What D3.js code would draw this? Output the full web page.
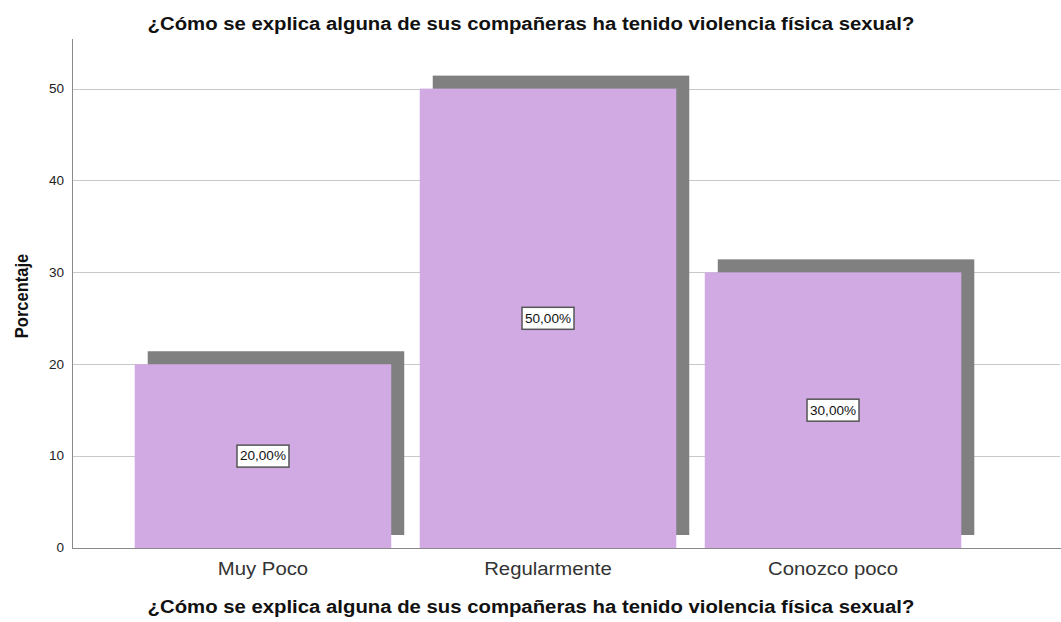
<!DOCTYPE html>
<html><head><meta charset="utf-8">
<script src="https://cdn.jsdelivr.net/npm/d3@7"></script>
<style>body{margin:0;background:#fff}svg{display:block}</style>
</head><body>
<svg id="c" width="1061" height="622"></svg>
<script>
const categories = ["Muy Poco", "Regularmente", "Conozco poco"];
const values = [20, 50, 30];
const yTicks = [0, 10, 20, 30, 40, 50];
const title = "¿Cómo se explica alguna de sus compañeras ha tenido violencia física sexual?";
const yTitle = "Porcentaje";

(function () {
const svg = d3.select("#c");
const font = "'Liberation Sans', Arial, sans-serif";
const sx = 1.13; // horizontal stretch of the text
const pLeft = 72, pRight = 1061, pTop = 39, pBottom = 548;

const y = d3.scaleLinear().domain([0, 55.4]).range([pBottom, pTop]);
const x = d3.scaleBand().domain(categories).range([pLeft, 1024]).paddingInner(0.1).paddingOuter(0.22);

// gridlines
svg.append("g").selectAll("line").data(yTicks.filter(d => d > 0)).join("line")
  .attr("x1", pLeft).attr("x2", pRight - 1)
  .attr("y1", d => Math.round(y(d)) + 0.5).attr("y2", d => Math.round(y(d)) + 0.5)
  .attr("stroke", "#c8c8c8").attr("stroke-width", 1);

const off = 13;
// shadows
svg.append("g").selectAll("rect").data(values).join("rect")
  .attr("x", (d, i) => x(categories[i]) + off)
  .attr("y", d => y(d) - off)
  .attr("width", x.bandwidth())
  .attr("height", d => y(0) - y(d))
  .attr("fill", "#808080");
// bars
svg.append("g").selectAll("rect").data(values).join("rect")
  .attr("x", (d, i) => x(categories[i]))
  .attr("y", d => y(d))
  .attr("width", x.bandwidth())
  .attr("height", d => y(0) - y(d))
  .attr("fill", "#d1aae3");

// axes
const yAxis = d3.axisLeft(y).tickValues(yTicks).tickSize(0).tickPadding(0);
const gy = svg.append("g").attr("transform", `translate(${pLeft + 0.5},0)`).call(yAxis);
gy.select(".domain").attr("stroke", "#8a8a8a").attr("d", `M0,${pTop}V${pBottom}`);
gy.selectAll("text").attr("font-family", font).attr("font-size", 12).attr("fill", "#222")
  .attr("x", 0).attr("transform", `translate(-8.5,0) scale(${sx},1)`);

const xAxis = d3.axisBottom(x).tickSize(0).tickPadding(14);
const gx = svg.append("g").attr("transform", `translate(0,${pBottom + 0.5})`).call(xAxis);
gx.select(".domain").attr("stroke", "#8a8a8a").attr("d", `M${pLeft},0H${pRight}`);
gx.selectAll("text").attr("font-family", font).attr("font-size", 18).attr("fill", "#333")
  .attr("transform", `scale(${sx},1)`);

// value labels
const lab = svg.append("g").selectAll("g").data(values).join("g")
  .attr("transform", (d, i) => `translate(${x(categories[i]) + x.bandwidth() / 2},${y(d / 2)})`);
lab.append("rect").attr("x", -26).attr("y", -11).attr("width", 52).attr("height", 22)
  .attr("fill", "#fff").attr("stroke", "#555").attr("stroke-width", 1.5);
lab.append("text").attr("text-anchor", "middle").attr("dy", "0.36em")
  .attr("transform", `scale(${sx},1)`)
  .attr("font-family", font).attr("font-size", 12).attr("fill", "#111")
  .text(d => d3.format(".2f")(d).replace(".", ",") + "%");

// titles
svg.append("text").attr("transform", `translate(531,30) scale(${sx},1)`).attr("text-anchor", "middle")
  .attr("font-family", font).attr("font-weight", "bold").attr("font-size", 18).attr("fill", "#111")
  .text(title);
svg.append("text").attr("transform", `translate(531,613) scale(${sx},1)`).attr("text-anchor", "middle")
  .attr("font-family", font).attr("font-weight", "bold").attr("font-size", 18).attr("fill", "#111")
  .text(title);
svg.append("text").attr("transform", `translate(27.5,296) scale(${sx},1) rotate(-90)`).attr("text-anchor", "middle")
  .attr("font-family", font).attr("font-weight", "bold").attr("font-size", 16.5).attr("fill", "#111")
  .text(yTitle);
})();
</script>
</body></html>
